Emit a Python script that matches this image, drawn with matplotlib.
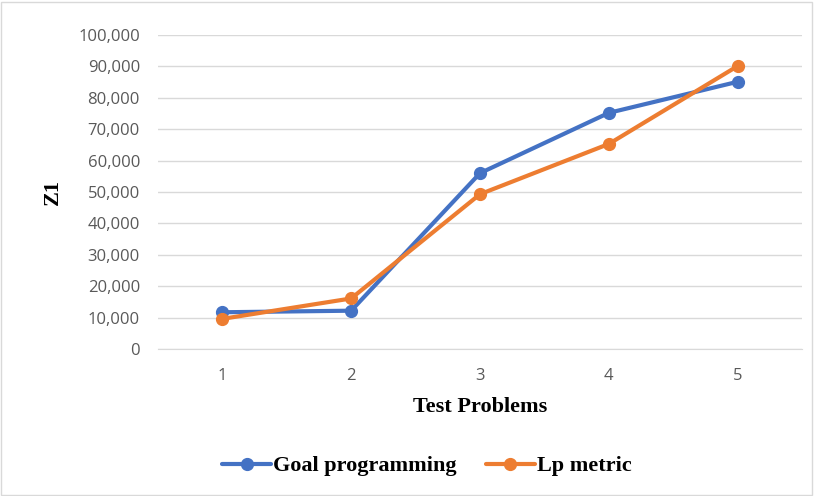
import numpy as np
import matplotlib
matplotlib.use("Agg")
import matplotlib.pyplot as plt
from matplotlib.ticker import FuncFormatter
from matplotlib.patches import Rectangle

problems = [1, 2, 3, 4, 5]
goal_programming = [11700, 12200, 56000, 75200, 85100]
lp_metric = [9600, 16100, 49300, 65300, 90100]

BLUE = "#4472c4"
ORANGE = "#ed7d31"

fig = plt.figure(figsize=(8.14, 4.96), dpi=100)
ax = fig.add_axes([158 / 814, 1 - 349 / 496, 644 / 814, 314 / 496])

ax.plot(problems, goal_programming, color=BLUE, lw=3.0, marker="o", ms=8.5,
        label="Goal programming", solid_capstyle="round")
ax.plot(problems, lp_metric, color=ORANGE, lw=3.0, marker="o", ms=8.5,
        label="Lp metric", solid_capstyle="round")

ax.set_xlim(0.5, 5.5)
ax.set_ylim(0, 100000)
ax.set_yticks(np.arange(0, 100001, 10000))
ax.yaxis.set_major_formatter(FuncFormatter(lambda v, p: f"{int(v):,}"))
ax.set_xticks(problems)
ax.grid(axis="y", color="#d9d9d9", lw=1)
ax.set_axisbelow(True)
for s in ["top", "right", "left"]:
    ax.spines[s].set_visible(False)
ax.spines["bottom"].set_color("#d9d9d9")
ax.tick_params(length=0, labelsize=12, labelcolor="#595959",
               labelfontfamily="Open Sans")
ax.tick_params(axis="y", pad=13)
ax.tick_params(axis="x", pad=14)

ax.set_xlabel("Test Problems", family="Liberation Serif", weight="bold", fontsize=16, labelpad=9)
ax.set_ylabel("Z1", family="Liberation Serif", weight="bold", fontsize=16, labelpad=11)

fig.legend(loc="center", bbox_to_anchor=(427 / 814, 1 - 466 / 496), ncol=2, frameon=False,
           prop=dict(family="Liberation Serif", weight="bold", size=16),
           handlelength=2.2, handletextpad=0.1, columnspacing=1.3)

fig.patches.append(Rectangle((0.001, 0.002), 0.996, 0.994, transform=fig.transFigure,
                             fill=False, edgecolor="#d9d9d9", lw=1))

fig.savefig("out.png", dpi=100)
